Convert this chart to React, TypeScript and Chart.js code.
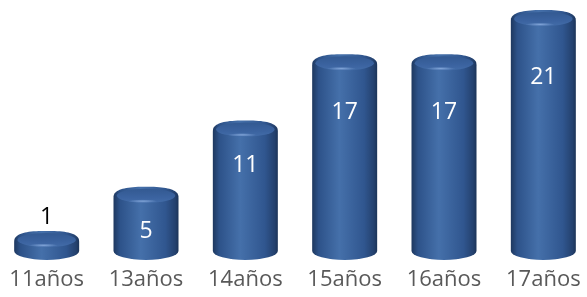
import React, { useEffect, useRef } from "react";
import { Chart, registerables } from "chart.js";

Chart.register(...registerables);

const categories = ["11años", "13años", "14años", "15años", "16años", "17años"];
const values = [1, 5, 11, 17, 17, 21];

const FONT = "'Open Sans', 'DejaVu Sans', sans-serif";

const cylinderPlugin = {
  id: "cylinders",
  afterDatasetsDraw(chart: any) {
    const ctx: CanvasRenderingContext2D = chart.ctx;
    const meta = chart.getDatasetMeta(0);
    const yScale = chart.scales.y;
    meta.data.forEach((bar: any, i: number) => {
      const { x, y, base, width } = bar.getProps(["x", "y", "base", "width"], true);
      const rx = width / 2;
      const ry = 9;
      const left = x - rx;
      const right = x + rx;
      ctx.save();
      // body with rounded shoulders
      const g = ctx.createLinearGradient(left, 0, right, 0);
      g.addColorStop(0, "#1e385f");
      g.addColorStop(0.1, "#2d5289");
      g.addColorStop(0.42, "#4570aa");
      g.addColorStop(0.8, "#30568f");
      g.addColorStop(0.95, "#24416e");
      g.addColorStop(1, "#1c3458");
      const yc = y + 2;
      const ryT = 11;
      const n = 2.6;
      ctx.beginPath();
      const steps = 40;
      for (let k = 0; k <= steps; k++) {
        const t = Math.PI + (Math.PI * k) / steps;
        const c = Math.cos(t);
        const s = Math.sin(t);
        const px = x + rx * Math.sign(c) * Math.pow(Math.abs(c), 2 / n);
        const py = yc - ryT * Math.pow(Math.abs(s), 2 / n);
        if (k === 0) ctx.moveTo(px, py);
        else ctx.lineTo(px, py);
      }
      ctx.lineTo(right, base);
      ctx.ellipse(x, base, rx, ry, 0, 0, Math.PI);
      ctx.closePath();
      ctx.fillStyle = g;
      ctx.fill();
      // top face
      ctx.beginPath();
      ctx.ellipse(x, y, rx * 0.9, ry * 0.78, 0, 0, 2 * Math.PI);
      const tg = ctx.createLinearGradient(0, y - ry, 0, y + ry);
      tg.addColorStop(0, "#31578e");
      tg.addColorStop(0.6, "#3b63a0");
      tg.addColorStop(1, "#4670ab");
      ctx.fillStyle = tg;
      ctx.fill();
      // highlight
      const hx = x - rx * 0.1;
      const hy = y + ry * 0.6;
      const rg = ctx.createRadialGradient(hx, hy, 0, hx, hy, rx * 0.45);
      rg.addColorStop(0, "rgba(140,175,225,0.85)");
      rg.addColorStop(1, "rgba(140,175,225,0)");
      ctx.save();
      ctx.translate(hx, hy);
      ctx.scale(1, 0.12);
      ctx.translate(-hx, -hy);
      ctx.beginPath();
      ctx.arc(hx, hy, rx * 0.45, 0, 2 * Math.PI);
      ctx.fillStyle = rg;
      ctx.fill();
      ctx.restore();
      // label
      const v = values[i];
      ctx.font = `23px ${FONT}`;
      ctx.textAlign = "center";
      ctx.textBaseline = "middle";
      if (v < 3) {
        ctx.fillStyle = "#000000";
        ctx.fillText(String(v), x, y - 22);
      } else {
        const ly = Math.max(y + 36, yScale.getPixelForValue(0.8 * v - 1.1));
        ctx.fillStyle = "#ffffff";
        ctx.fillText(String(v), x, ly);
      }
      ctx.restore();
    });
  },
};

export default function App() {
  const ref = useRef<HTMLCanvasElement | null>(null);
  useEffect(() => {
    document.body.style.margin = "0";
    document.body.style.overflow = "hidden";
    if (!ref.current) return;
    const chart = new Chart(ref.current, {
      type: "bar",
      data: {
        labels: categories,
        datasets: [
          {
            data: values,
            backgroundColor: "rgba(0,0,0,0)",
            borderWidth: 0,
            barThickness: 65,
            clip: false as any,
          },
        ],
      },
      options: {
        animation: false,
        responsive: false,
        layout: { padding: { top: 19, left: 0, right: 0, bottom: -12 } },
        plugins: { legend: { display: false }, tooltip: { enabled: false } },
        scales: {
          x: {
            offset: true,
            grid: { display: false, drawTicks: false, tickLength: 0 },
            border: { display: false },
            ticks: {
              color: "#595959",
              font: { family: FONT, size: 22, lineHeight: 1.91 },
              padding: 8,
              maxRotation: 0,
              autoSkip: false,
            },
          },
          y: { display: false, min: 0, max: 21 },
        },
      },
      plugins: [cylinderPlugin],
    });
    return () => chart.destroy();
  }, []);
  return (
    <canvas
      ref={ref}
      width={596}
      height={297}
      style={{ display: "block", marginLeft: "-3px" }}
    />
  );
}
